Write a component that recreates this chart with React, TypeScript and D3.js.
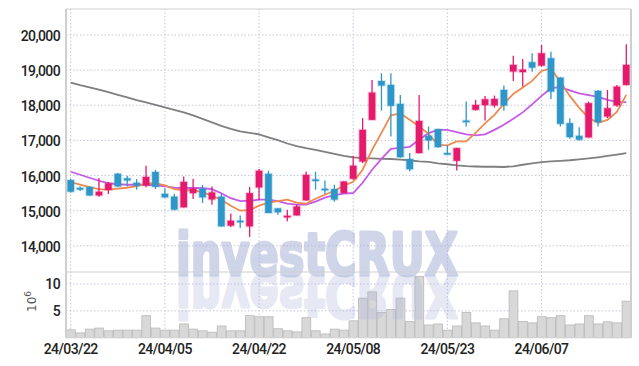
import React from "react";
import * as d3 from "d3";

const dates = [
  "24/03/22","24/03/25","24/03/26","24/03/27","24/03/28","24/03/29","24/04/01","24/04/02","24/04/03","24/04/04",
  "24/04/05","24/04/08","24/04/09","24/04/11","24/04/12","24/04/15","24/04/16","24/04/17","24/04/18","24/04/19",
  "24/04/22","24/04/23","24/04/24","24/04/25","24/04/26","24/04/29","24/04/30","24/05/02","24/05/03","24/05/07",
  "24/05/08","24/05/09","24/05/10","24/05/13","24/05/14","24/05/16","24/05/17","24/05/20","24/05/21","24/05/22",
  "24/05/23","24/05/24","24/05/27","24/05/28","24/05/29","24/05/30","24/05/31","24/06/03","24/06/04","24/06/05",
  "24/06/07","24/06/10","24/06/11","24/06/12","24/06/13","24/06/14","24/06/17","24/06/18","24/06/19","24/06/20",
];
const xTickLabels = ["24/03/22","24/04/05","24/04/22","24/05/08","24/05/23","24/06/07"];
const priceTicks = [14000, 15000, 16000, 17000, 18000, 19000, 20000];
const volumeTicks = [5, 10];

const opens = [15870,15650,15670,15435,15590,16050,15920,15795,15720,16100,15480,15400,15095,15500,15625,15320,15400,14575,14715,14555,15662,16050,15065,14810,14866,15295,15890,15625,15615,15505,15910,16400,17585,18690,18580,18040,16470,16640,17130,17320,16640,16420,17565,17870,18005,17995,18437,18960,18945,19225,19128,19337,18788,17491,17130,17085,18409,17680,17995,18580];
const highs = [15900,15690,15700,15930,15815,16070,15995,15900,16280,16165,15640,15483,15975,15900,15730,15690,15475,14923,14866,15673,16185,16136,15070,15028,15170,16117,16108,15860,15740,15840,16562,17634,18722,18912,18912,18295,16640,18295,17395,17330,16860,16790,18105,18153,18267,18276,18560,19412,19318,19480,19716,19526,18800,17634,17377,18105,18437,18437,18580,19735];
const lows = [15520,15560,15420,15400,15475,15680,15690,15600,15670,15617,15370,15010,15090,15330,15220,15170,14540,14537,14508,14253,15300,14930,14886,14696,14860,15280,15597,15475,15256,15500,15880,16355,17580,17850,17110,16510,16117,16630,16733,16790,16590,16145,17395,17850,17565,17935,17841,18693,18531,18957,19100,18182,17395,17045,17000,17080,17395,17634,17960,18560];
const closes = [15540,15600,15435,15540,15775,15690,15860,15710,15960,15680,15380,15030,15820,15625,15380,15520,14555,14715,14685,15500,16136,14935,14955,14855,15120,16020,15870,15605,15315,15830,16280,17300,18360,18560,17985,16525,16180,17555,17000,16810,16600,16780,17550,18010,18170,18180,17995,19150,19015,19070,19480,18390,17472,17094,17020,18060,17520,17917,18530,19150];
const volumes = [1.47,0.9,1.6,1.8,1.28,1.41,1.41,1.41,4.1,1.8,1.41,1.41,2.56,1.6,1.28,1.03,2.18,1.28,1.28,4.1,3.9,3.9,1.67,1.28,1.09,3.72,1.28,0.7,1.6,1.41,3.14,7.37,8.53,4.68,5.26,7.37,3.01,11.4,2.37,2.56,1.41,2.18,4.68,2.76,2.18,1.41,3.53,8.72,3.01,2.76,3.91,3.72,4.1,2.37,2.56,4.1,2.56,2.95,2.76,6.8];
const maShort = [15810,15739,15668,15611,15597,15625,15653,15696,15767,15781,15724,15611,15582,15582,15525,15426,15312,15142,15000,15014,15142,15227,15270,15312,15227,15199,15341,15454,15568,15710,15824,16165,16733,17216,17713,17770,17585,17400,17187,16875,16861,16974,16974,17216,17486,17727,18040,18324,18508,18693,18977,19048,18665,18267,17926,17642,17500,17585,17812,18295];
const maMid = [16108,16023,15937,15852,15781,15753,15738,15738,15738,15724,15696,15653,15645,15645,15639,15611,15497,15355,15270,15284,15312,15312,15270,15199,15170,15170,15256,15369,15440,15483,15503,15795,16165,16477,16761,16790,16818,17017,17207,17301,17301,17236,17173,17145,17173,17301,17443,17614,17798,18026,18267,18486,18514,18423,18338,18287,18239,18153,18097,18088];
const maLong = [18642,18571,18508,18446,18372,18295,18224,18148,18082,18011,17940,17869,17798,17713,17614,17514,17415,17329,17258,17216,17173,17088,17008,16912,16838,16781,16733,16676,16619,16562,16520,16497,16486,16477,16471,16454,16435,16406,16392,16349,16321,16292,16270,16258,16250,16250,16244,16264,16307,16349,16383,16406,16420,16435,16463,16486,16520,16557,16596,16639];

const W = 639, H = 366;
const L = 66, R = 631, T = 9, PB = 272, VB = 337.7;
const UP = "#e41b6c", DOWN = "#2f96c8";
const GRID = "#c3c7db";
const FONT = "Roboto, 'DejaVu Sans', sans-serif";
const WM_FONT = "'DejaVu Sans', sans-serif";
const WM_COL = "#a9b3d8";

export default function App() {
  const idx = dates.map((_, i) => i);
  const x = d3.scaleBand<number>().domain(idx).range([L, R]).padding(0);
  const bw = x.bandwidth();
  const cx = (i: number) => (x(i) as number) + bw / 2;
  const y = d3.scaleLinear().domain([13255, 20740]).range([PB, T]);
  const yv = d3.scaleLinear().domain([0, 12.23]).range([VB, PB]);

  const line = (arr: number[]) =>
    d3.line<number>().x((_, i) => cx(i)).y((v) => y(v)).curve(d3.curveLinear)(arr) || "";

  const tickIdx = xTickLabels.map((t) => dates.indexOf(t));
  const bodyW = 6.6;

  return (
    <svg width={W} height={H} style={{ position: "absolute", left: 0, top: 0, display: "block", background: "#fff" }}>
      <defs>
        <clipPath id="plotclip">
          <rect x={L} y={T} width={R - L} height={VB - T} />
        </clipPath>
        <clipPath id="reflclip">
          <rect x={L} y={275} width={R - L} height={VB - 275} />
        </clipPath>
      </defs>

      {/* grid */}
      {priceTicks.map((t) => (
        <line key={"pg" + t} x1={L} x2={R} y1={y(t)} y2={y(t)} stroke={GRID} strokeWidth={1} strokeDasharray="1.5,2" />
      ))}
      {volumeTicks.map((t) => (
        <line key={"vg" + t} x1={L} x2={R} y1={yv(t)} y2={yv(t)} stroke={GRID} strokeWidth={1} strokeDasharray="1.5,2" />
      ))}
      {tickIdx.map((i) => (
        <line key={"xg" + i} x1={cx(i)} x2={cx(i)} y1={T} y2={VB} stroke={GRID} strokeWidth={1} strokeDasharray="1.5,2" />
      ))}

      {/* volume */}
      {volumes.map((v, i) => (
        <rect key={"v" + i} x={(x(i) as number) + 0.5} y={yv(v)} width={bw - 0.6} height={VB - yv(v)}
          fill="#d8d8d8" stroke="#b9b9b9" strokeWidth={0.8} />
      ))}

      {/* watermark */}
      <g clipPath="url(#plotclip)" opacity={0.55}>
        <text x={176} y={275} fontFamily={WM_FONT} fontWeight="bold" fontSize={58}
          textLength={282} lengthAdjust="spacingAndGlyphs" fill={WM_COL}
          stroke={WM_COL} strokeWidth={3} strokeLinejoin="round">investCRUX</text>
      </g>
      <g clipPath="url(#reflclip)" opacity={0.28}>
        <g transform="translate(0,550) scale(1,-1)">
          <text x={176} y={275} fontFamily={WM_FONT} fontWeight="bold" fontSize={58}
            textLength={282} lengthAdjust="spacingAndGlyphs" fill={WM_COL}
            stroke={WM_COL} strokeWidth={3} strokeLinejoin="round">investCRUX</text>
        </g>
      </g>

      {/* moving averages */}
      <path d={line(maLong)} fill="none" stroke="#7f7f7f" strokeWidth={1.8} />
      <path d={line(maMid)} fill="none" stroke="#c65ae8" strokeWidth={1.8} />
      <path d={line(maShort)} fill="none" stroke="#ef8a4e" strokeWidth={1.8} />

      {/* candles */}
      {closes.map((c, i) => {
        const o = opens[i];
        const up = c >= o;
        const col = up ? UP : DOWN;
        const top = y(Math.max(o, c));
        const bot = y(Math.min(o, c));
        const h = Math.max(bot - top, 1.6);
        return (
          <g key={"c" + i}>
            <line x1={cx(i)} x2={cx(i)} y1={y(highs[i])} y2={y(lows[i])} stroke={col} strokeWidth={1.3} />
            <rect x={cx(i) - bodyW / 2} y={top} width={bodyW} height={h} fill={col}
              stroke={col} strokeOpacity={0.25} strokeWidth={2} />
          </g>
        );
      })}

      {/* borders */}
      <line x1={L} x2={R} y1={T} y2={T} stroke="#d0d0d0" strokeWidth={1.2} />
      <line x1={L} x2={R} y1={PB} y2={PB} stroke="#d0d0d0" strokeWidth={1.2} />
      <line x1={L} x2={R} y1={VB} y2={VB} stroke="#d6d6d6" strokeWidth={1} />
      <line x1={L} x2={L} y1={T} y2={VB} stroke="#cfcfcf" strokeWidth={2} />
      <line x1={R} x2={R} y1={T} y2={VB} stroke="#cfcfcf" strokeWidth={2} />

      {/* labels */}
      {priceTicks.map((t) => (
        <text key={"pl" + t} x={60} y={y(t) + 6} textAnchor="end" fontFamily={FONT} fontWeight={500}
          fontSize={14} letterSpacing={-0.6} fill="#222">{d3.format(",")(t)}</text>
      ))}
      {volumeTicks.map((t) => (
        <text key={"vl" + t} x={60} y={yv(t) + 5} textAnchor="end" fontFamily={FONT} fontWeight={500}
          fontSize={14} letterSpacing={-0.6} fill="#222">{t}</text>
      ))}
      <text transform="translate(36,312) rotate(-90)" fontFamily="'DejaVu Sans', sans-serif" fontSize={12} fill="#555">
        10<tspan dy={-5} fontSize={9}>6</tspan>
      </text>
      {tickIdx.map((i, k) => (
        <text key={"xl" + i} x={cx(i)} y={354} textAnchor="middle" fontFamily={FONT} fontWeight={500}
          fontSize={14} letterSpacing={-0.6} fill="#222">{xTickLabels[k]}</text>
      ))}
    </svg>
  );
}
